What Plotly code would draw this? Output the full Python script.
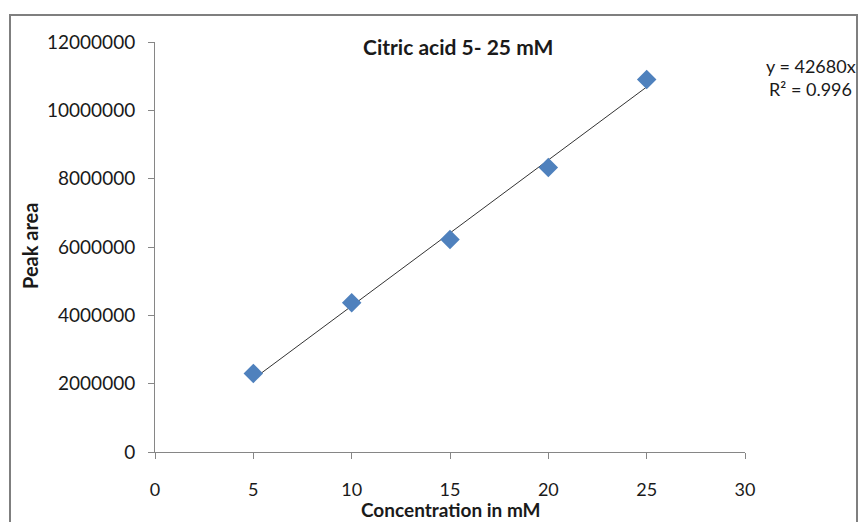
import numpy as np
import plotly.graph_objects as go

# Calibration data: citric acid standards
concentration_mM = [5, 10, 15, 20, 25]
peak_area = [2300000, 4370000, 6220000, 8330000, 10900000]

x_ticks = [0, 5, 10, 15, 20, 25, 30]
y_ticks = [0, 2000000, 4000000, 6000000, 8000000, 10000000, 12000000]

equation_text = "y = 42680x"
r2_text = "R² = 0.996"

# Linear trendline forced through the origin, spanning the data range
x = np.array(concentration_mM, dtype=float)
y = np.array(peak_area, dtype=float)
slope = float((x * y).sum() / (x * x).sum())
trend_x = [x.min(), x.max()]
trend_y = [slope * v for v in trend_x]

FONT = "Lato, 'Open Sans', sans-serif"
AXIS_COLOR = "#868686"

fig = go.Figure()
fig.add_trace(go.Scatter(
    x=trend_x, y=trend_y, mode="lines",
    line=dict(color="#333333", width=1), hoverinfo="skip", showlegend=False,
))
fig.add_trace(go.Scatter(
    x=concentration_mM, y=peak_area, mode="markers",
    marker=dict(symbol="diamond", size=15, color="#4F81BD",
                line=dict(width=0)),
    showlegend=False,
))

W, H = 862, 522
L, R, T, B = 155, 117, 42, 70
pw, ph = W - L - R, H - T - B


def px_to_paper(px, py):
    return (px - L) / pw, (H - B - py) / ph


x0, y0 = px_to_paper(10, 15)
x1, y1 = px_to_paper(857, 540)

fig.update_layout(
    width=W, height=H,
    margin=dict(l=L, r=R, t=T, b=B),
    paper_bgcolor="white", plot_bgcolor="white",
    font=dict(family=FONT, size=19, color="#1a1a1a"),
    xaxis=dict(
        range=[0, 30], tickvals=x_ticks, showgrid=False, zeroline=False,
        showline=True, linecolor=AXIS_COLOR, linewidth=1,
        ticks="outside", ticklen=6, tickcolor=AXIS_COLOR,
        tickfont=dict(size=18), ticklabelstandoff=15,
    ),
    yaxis=dict(
        range=[0, 12000000], tickvals=y_ticks, tickformat="d",
        showgrid=False, zeroline=False,
        showline=True, linecolor=AXIS_COLOR, linewidth=1,
        ticks="outside", ticklen=6, tickcolor=AXIS_COLOR,
        tickfont=dict(size=19), ticklabelstandoff=9,
    ),
    shapes=[
        dict(type="rect", xref="paper", yref="paper",
             x0=x0, y0=y1, x1=x1, y1=y0,
             line=dict(color="#7f7f7f", width=2), fillcolor="rgba(0,0,0,0)",
             layer="below"),
    ],
    annotations=[
        dict(text="<b>Citric acid 5- 25 mM</b>", xref="paper", yref="paper",
             x=px_to_paper(458, 0)[0], y=px_to_paper(0, 46)[1],
             showarrow=False, font=dict(size=21), xanchor="center", yanchor="middle"),
        dict(text="<b>Concentration in mM</b>", xref="paper", yref="paper",
             x=px_to_paper(451, 0)[0], y=px_to_paper(0, 510)[1],
             showarrow=False, font=dict(size=19), xanchor="center", yanchor="middle"),
        dict(text="<b>Peak area</b>", xref="paper", yref="paper",
             x=px_to_paper(30, 0)[0], y=px_to_paper(0, 246)[1], textangle=-90,
             showarrow=False, font=dict(size=20), xanchor="center", yanchor="middle"),
        dict(text=equation_text, xref="paper", yref="paper",
             x=px_to_paper(858, 0)[0], y=px_to_paper(0, 66)[1],
             showarrow=False, font=dict(size=18), xanchor="right", yanchor="middle"),
        dict(text=r2_text, xref="paper", yref="paper",
             x=px_to_paper(854, 0)[0], y=px_to_paper(0, 89)[1],
             showarrow=False, font=dict(size=18), xanchor="right", yanchor="middle"),
    ],
)

fig.write_html("out.html")
